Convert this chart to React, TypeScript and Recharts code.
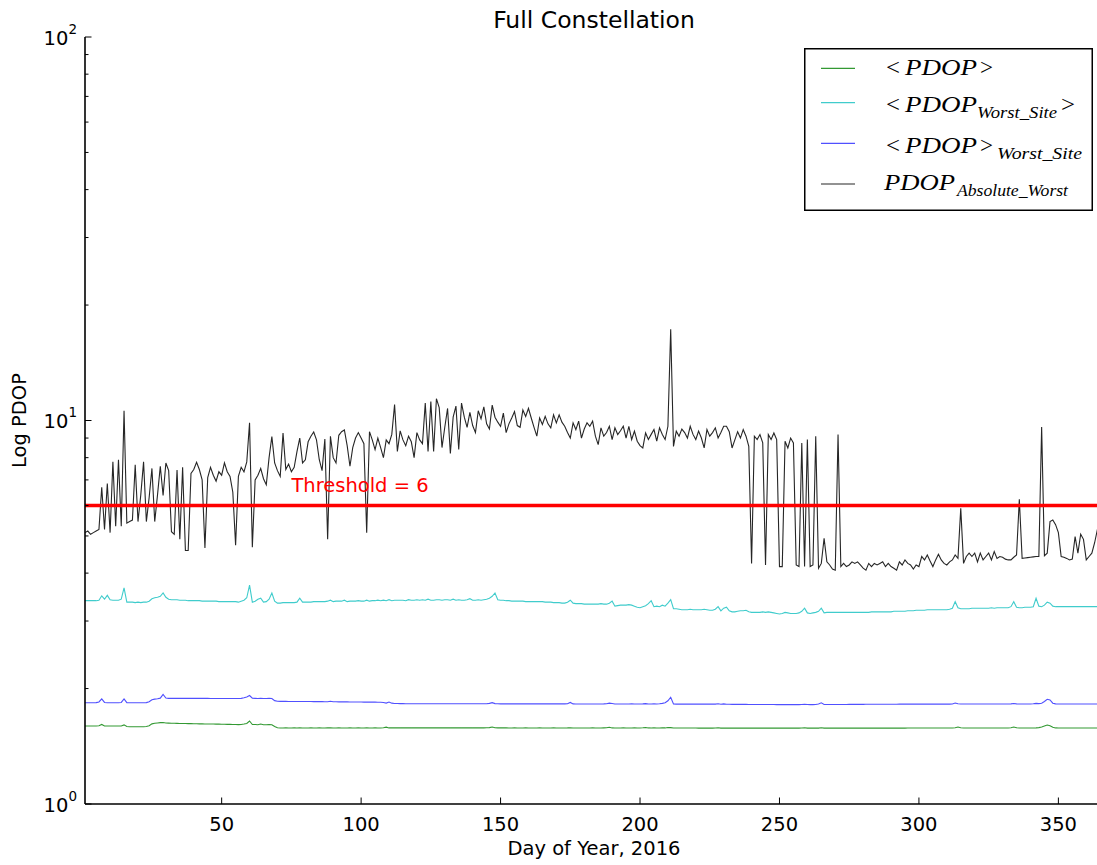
import React from 'react';
import { LineChart, Line, XAxis, YAxis, ReferenceLine, ReferenceDot, Legend } from 'recharts';

// ---------------- data (day 1 .. 366 of 2016) ----------------
// <PDOP>  (green)
const pdopMean = [
  1.597,1.597,1.597,1.597,1.597,1.600,1.612,1.598,1.597,1.597,
  1.597,1.597,1.597,1.598,1.608,1.592,1.590,1.590,1.590,1.590,
  1.590,1.590,1.592,1.600,1.618,1.624,1.627,1.630,1.631,1.626,
  1.625,1.624,1.624,1.623,1.622,1.622,1.621,1.620,1.620,1.619,
  1.619,1.618,1.618,1.617,1.617,1.616,1.616,1.615,1.615,1.614,
  1.614,1.613,1.613,1.612,1.612,1.611,1.612,1.616,1.622,1.646,
  1.612,1.612,1.610,1.616,1.610,1.610,1.612,1.609,1.592,1.580,
  1.578,1.578,1.579,1.578,1.578,1.579,1.578,1.580,1.578,1.578,
  1.578,1.579,1.578,1.578,1.579,1.578,1.578,1.580,1.579,1.578,
  1.578,1.579,1.578,1.578,1.578,1.579,1.578,1.578,1.579,1.578,
  1.578,1.579,1.578,1.578,1.579,1.578,1.578,1.580,1.586,1.579,
  1.579,1.579,1.580,1.579,1.579,1.579,1.580,1.579,1.579,1.579,
  1.579,1.580,1.579,1.579,1.579,1.580,1.579,1.579,1.579,1.579,
  1.580,1.579,1.579,1.579,1.580,1.579,1.579,1.579,1.580,1.579,
  1.579,1.579,1.580,1.579,1.580,1.582,1.588,1.581,1.579,1.579,
  1.579,1.579,1.578,1.578,1.579,1.578,1.578,1.578,1.579,1.578,
  1.578,1.578,1.578,1.579,1.578,1.578,1.578,1.578,1.579,1.578,
  1.578,1.578,1.578,1.579,1.581,1.578,1.578,1.578,1.578,1.578,
  1.578,1.578,1.579,1.578,1.578,1.578,1.579,1.580,1.585,1.579,
  1.578,1.578,1.578,1.579,1.578,1.578,1.578,1.579,1.578,1.578,
  1.580,1.583,1.579,1.578,1.580,1.578,1.578,1.581,1.579,1.583,
  1.582,1.578,1.578,1.578,1.578,1.578,1.578,1.578,1.578,1.578,
  1.577,1.577,1.577,1.578,1.577,1.577,1.578,1.581,1.577,1.578,
  1.577,1.577,1.577,1.577,1.577,1.577,1.577,1.577,1.577,1.577,
  1.577,1.577,1.577,1.577,1.577,1.577,1.577,1.577,1.577,1.577,
  1.577,1.577,1.577,1.577,1.577,1.577,1.577,1.578,1.580,1.577,
  1.577,1.577,1.577,1.577,1.580,1.577,1.577,1.577,1.577,1.577,
  1.577,1.577,1.577,1.577,1.577,1.577,1.577,1.577,1.577,1.577,
  1.577,1.577,1.577,1.577,1.577,1.577,1.577,1.577,1.577,1.577,
  1.577,1.577,1.577,1.577,1.577,1.578,1.578,1.578,1.578,1.578,
  1.578,1.578,1.578,1.578,1.578,1.578,1.578,1.578,1.578,1.578,
  1.578,1.578,1.580,1.587,1.580,1.578,1.578,1.578,1.578,1.578,
  1.578,1.578,1.578,1.578,1.578,1.578,1.578,1.578,1.578,1.578,
  1.578,1.578,1.580,1.587,1.580,1.578,1.578,1.578,1.578,1.578,
  1.578,1.579,1.582,1.588,1.598,1.607,1.600,1.586,1.579,1.578,
  1.578,1.578,1.578,1.578,1.578,1.578,1.578,1.578,1.578,1.578,
  1.578,1.578,1.578,1.578,1.578,1.578,
];

// <PDOP_Worst_Site>  (cyan)
const pdopWorstSiteMean = [
  3.39,3.39,3.39,3.39,3.39,3.40,3.49,3.42,3.50,3.41,
  3.40,3.40,3.40,3.42,3.66,3.36,3.36,3.36,3.35,3.36,
  3.35,3.36,3.36,3.38,3.43,3.45,3.46,3.48,3.55,3.46,
  3.42,3.41,3.41,3.41,3.40,3.40,3.40,3.39,3.39,3.39,
  3.39,3.39,3.38,3.38,3.38,3.38,3.38,3.38,3.37,3.37,
  3.37,3.37,3.37,3.37,3.37,3.36,3.38,3.40,3.45,3.72,
  3.36,3.38,3.42,3.44,3.36,3.37,3.42,3.55,3.38,3.34,
  3.34,3.35,3.35,3.35,3.35,3.35,3.36,3.44,3.36,3.36,
  3.36,3.36,3.37,3.37,3.37,3.37,3.37,3.38,3.40,3.37,
  3.38,3.38,3.38,3.40,3.37,3.38,3.38,3.38,3.39,3.38,
  3.38,3.40,3.38,3.39,3.39,3.40,3.39,3.40,3.39,3.41,
  3.39,3.40,3.40,3.40,3.40,3.39,3.41,3.40,3.40,3.41,
  3.40,3.41,3.40,3.42,3.40,3.40,3.41,3.41,3.40,3.41,
  3.41,3.40,3.42,3.40,3.41,3.40,3.40,3.41,3.43,3.40,
  3.40,3.41,3.40,3.41,3.42,3.44,3.48,3.55,3.41,3.40,
  3.40,3.39,3.39,3.38,3.38,3.38,3.38,3.38,3.37,3.37,
  3.37,3.37,3.37,3.37,3.37,3.36,3.36,3.36,3.35,3.35,
  3.35,3.34,3.34,3.36,3.40,3.34,3.33,3.33,3.33,3.32,
  3.32,3.32,3.32,3.32,3.32,3.33,3.32,3.32,3.34,3.38,
  3.28,3.29,3.30,3.30,3.30,3.31,3.30,3.28,3.26,3.25,
  3.27,3.29,3.33,3.39,3.27,3.28,3.27,3.30,3.28,3.34,
  3.41,3.23,3.23,3.22,3.21,3.21,3.21,3.22,3.21,3.21,
  3.21,3.21,3.22,3.21,3.20,3.20,3.22,3.27,3.19,3.24,
  3.26,3.19,3.17,3.17,3.18,3.19,3.19,3.20,3.17,3.16,
  3.16,3.16,3.16,3.17,3.16,3.17,3.16,3.15,3.14,3.13,
  3.14,3.16,3.15,3.14,3.14,3.14,3.15,3.18,3.24,3.15,
  3.14,3.15,3.16,3.18,3.24,3.15,3.16,3.16,3.16,3.16,
  3.16,3.16,3.16,3.16,3.16,3.16,3.16,3.16,3.16,3.16,
  3.16,3.16,3.17,3.17,3.17,3.17,3.17,3.17,3.17,3.17,
  3.18,3.18,3.18,3.18,3.18,3.19,3.19,3.19,3.20,3.20,
  3.20,3.20,3.21,3.21,3.21,3.21,3.21,3.21,3.21,3.21,
  3.22,3.24,3.37,3.25,3.23,3.23,3.23,3.23,3.24,3.24,
  3.24,3.24,3.24,3.24,3.24,3.25,3.24,3.25,3.25,3.25,
  3.25,3.25,3.27,3.37,3.26,3.25,3.25,3.26,3.26,3.26,
  3.27,3.44,3.28,3.27,3.30,3.36,3.34,3.28,3.27,3.27,
  3.27,3.27,3.27,3.27,3.27,3.27,3.27,3.27,3.27,3.27,
  3.27,3.27,3.27,3.27,3.27,3.27,
];

// <PDOP>_Worst_Site  (blue)
const pdopMeanWorstSite = [
  1.837,1.837,1.837,1.837,1.838,1.845,1.880,1.840,1.837,1.837,
  1.837,1.837,1.837,1.840,1.880,1.838,1.837,1.837,1.837,1.837,
  1.837,1.837,1.838,1.848,1.870,1.877,1.882,1.888,1.930,1.890,
  1.886,1.886,1.886,1.886,1.886,1.886,1.886,1.885,1.885,1.885,
  1.885,1.885,1.885,1.885,1.885,1.884,1.884,1.884,1.884,1.884,
  1.884,1.884,1.884,1.884,1.884,1.884,1.886,1.892,1.900,1.918,
  1.888,1.886,1.884,1.885,1.884,1.884,1.886,1.884,1.860,1.853,
  1.852,1.852,1.852,1.851,1.851,1.851,1.851,1.851,1.850,1.850,
  1.850,1.850,1.849,1.849,1.849,1.849,1.848,1.848,1.853,1.847,
  1.847,1.846,1.846,1.846,1.846,1.845,1.845,1.845,1.845,1.845,
  1.844,1.844,1.844,1.843,1.843,1.842,1.842,1.840,1.833,1.845,
  1.832,1.829,1.828,1.827,1.827,1.826,1.826,1.826,1.825,1.825,
  1.825,1.825,1.825,1.825,1.825,1.825,1.825,1.825,1.825,1.825,
  1.825,1.825,1.825,1.825,1.825,1.825,1.825,1.825,1.825,1.825,
  1.825,1.825,1.825,1.825,1.826,1.830,1.838,1.827,1.825,1.824,
  1.824,1.824,1.824,1.824,1.824,1.824,1.824,1.824,1.824,1.824,
  1.824,1.824,1.824,1.824,1.824,1.824,1.824,1.824,1.824,1.824,
  1.824,1.824,1.824,1.826,1.840,1.824,1.823,1.823,1.823,1.823,
  1.823,1.823,1.823,1.823,1.823,1.823,1.824,1.826,1.832,1.828,
  1.823,1.823,1.823,1.823,1.823,1.823,1.824,1.823,1.823,1.823,
  1.824,1.827,1.823,1.823,1.825,1.823,1.826,1.830,1.836,1.858,
  1.898,1.823,1.822,1.822,1.822,1.822,1.822,1.822,1.821,1.821,
  1.821,1.821,1.821,1.821,1.821,1.821,1.822,1.826,1.820,1.824,
  1.820,1.820,1.819,1.819,1.819,1.819,1.819,1.819,1.818,1.818,
  1.818,1.818,1.818,1.817,1.817,1.817,1.817,1.817,1.816,1.816,
  1.816,1.816,1.816,1.816,1.816,1.816,1.816,1.817,1.820,1.817,
  1.816,1.816,1.817,1.822,1.836,1.818,1.817,1.817,1.818,1.818,
  1.818,1.818,1.818,1.818,1.819,1.819,1.819,1.819,1.819,1.819,
  1.820,1.820,1.820,1.820,1.820,1.820,1.820,1.820,1.820,1.820,
  1.820,1.820,1.821,1.821,1.821,1.821,1.821,1.821,1.822,1.822,
  1.822,1.822,1.822,1.822,1.822,1.822,1.822,1.822,1.822,1.822,
  1.822,1.823,1.834,1.826,1.823,1.823,1.823,1.823,1.823,1.823,
  1.823,1.823,1.823,1.823,1.823,1.823,1.823,1.823,1.823,1.823,
  1.823,1.823,1.824,1.828,1.824,1.823,1.823,1.823,1.823,1.823,
  1.826,1.830,1.827,1.832,1.850,1.875,1.868,1.832,1.824,1.823,
  1.823,1.823,1.823,1.823,1.823,1.823,1.823,1.823,1.823,1.823,
  1.823,1.823,1.823,1.823,1.823,1.823,
];

// PDOP_Absolute_Worst  (black)
const pdopAbsoluteWorst = [
  5.10,5.15,5.05,5.10,5.15,5.20,6.70,5.20,6.85,5.10,
  7.80,5.30,7.90,5.30,10.6,5.40,5.45,5.50,7.66,5.45,
  6.40,7.80,5.45,6.30,7.50,5.45,6.40,7.60,6.38,7.75,
  7.40,5.13,5.05,7.43,4.90,7.55,4.58,4.58,7.28,7.45,
  7.78,7.45,7.00,4.65,7.10,7.55,7.20,6.95,7.35,7.20,
  7.75,7.35,7.15,6.50,4.73,7.15,7.55,7.35,7.80,9.87,
  4.67,7.00,7.20,7.50,7.05,6.80,8.00,9.08,7.75,7.40,
  7.15,9.27,7.45,7.70,7.35,7.55,8.30,9.00,7.75,7.90,
  8.80,9.10,9.33,8.90,7.90,7.40,8.95,4.90,9.10,8.00,
  7.75,9.15,9.35,9.45,8.60,7.60,8.50,9.00,9.30,9.00,
  8.70,5.10,9.35,8.90,8.40,9.00,8.50,8.00,8.90,8.70,
  9.20,11.0,8.30,9.40,8.90,8.60,9.10,8.80,8.00,9.30,
  8.90,8.70,11.1,8.30,11.2,8.30,11.4,10.8,8.50,9.60,
  10.75,8.20,10.2,10.9,8.40,11.1,10.2,9.60,10.5,9.70,
  9.30,10.6,10.1,10.86,9.80,9.50,10.97,10.2,9.90,9.65,
  10.45,9.30,9.80,10.15,10.55,9.70,9.60,10.65,10.25,10.76,
  10.15,9.60,9.10,10.15,9.76,10.25,9.80,9.57,10.35,9.86,
  10.35,9.90,9.66,9.30,9.00,9.86,9.47,9.96,9.00,9.50,
  9.86,9.66,9.96,9.10,8.65,9.57,9.10,9.30,9.66,8.92,
  9.57,9.19,9.40,9.66,9.00,9.66,8.92,9.38,8.83,8.60,
  8.48,9.28,8.92,9.20,9.47,8.83,9.57,9.20,8.92,9.66,
  17.3,8.56,9.38,9.10,9.50,9.30,9.00,9.66,9.20,8.92,
  9.38,9.00,8.48,9.47,9.10,9.30,9.57,9.00,9.30,9.66,
  9.66,9.35,8.48,8.90,9.35,9.00,9.47,9.10,8.56,4.24,
  9.10,8.92,9.19,8.74,4.20,9.19,8.92,9.28,8.92,4.16,
  4.16,8.83,8.48,9.00,8.74,4.20,4.16,8.74,4.16,8.92,
  4.16,4.20,9.10,4.12,4.24,4.93,4.28,4.20,4.10,4.07,
  9.19,4.16,4.24,4.16,4.20,4.28,4.24,4.28,4.20,4.12,
  4.07,4.24,4.16,4.24,4.20,4.24,4.28,4.16,4.24,4.16,
  4.12,4.07,4.28,4.20,4.33,4.24,4.20,4.10,4.20,4.16,
  4.42,4.33,4.46,4.30,4.16,4.33,4.48,4.33,4.24,4.20,
  4.28,4.33,4.46,4.37,5.90,4.24,4.42,4.51,4.42,4.51,
  4.28,4.51,4.33,4.42,4.51,4.33,4.55,4.37,4.42,4.40,
  4.35,4.33,4.33,4.40,4.46,6.23,4.37,4.38,4.39,4.40,
  4.41,4.42,4.42,9.62,4.44,4.51,5.45,5.50,5.35,5.10,
  4.42,4.40,4.37,4.33,4.35,4.98,4.51,5.05,4.90,4.33,
  4.42,4.51,4.80,5.20,5.00,5.00,
];

const xTicks = [50, 100, 150, 200, 250, 300, 350];
const yMajorTicks = [1, 10, 100];
const yMajorExponents = ['0', '1', '2'];
const yMinorTicks = [2, 3, 4, 5, 6, 7, 8, 9, 20, 30, 40, 50, 60, 70, 80, 90];
const yAllTicks = [...yMajorTicks, ...yMinorTicks].sort((a, b) => a - b);

const thresholdValue = 6;
const thresholdText = 'Threshold = 6';
const thresholdTextDay = 75;
const thresholdTextValue = 6.5;

const seriesKeys = ['mean', 'worstSiteMean', 'meanWorstSite', 'absoluteWorst'];
const seriesColors = ['#339933', '#40cccc', '#5050ff', '#262626'];

const titleText = 'Full Constellation';
const xLabelText = 'Day of Year, 2016';
const yLabelText = 'Log PDOP';

const data = pdopAbsoluteWorst.map((v, i) => ({
  day: i + 1,
  mean: pdopMean[i],
  worstSiteMean: pdopWorstSiteMean[i],
  meanWorstSite: pdopMeanWorstSite[i],
  absoluteWorst: v,
}));

// ---------------- styling ----------------
const SANS = '"DejaVu Sans", "Bitstream Vera Sans", Verdana, sans-serif';
const SERIF = '"Liberation Serif", "Times New Roman", serif';
const FS = 19.5;
const CHART_W = 1103;
const CHART_H = 865;
const MARGIN_TOP = 37;
const X_AXIS_H = 61;
const PLOT_H = CHART_H - MARGIN_TOP - X_AXIS_H;

const YTick = (props: any) => {
  const { x, y, payload, side } = props;
  const v = payload.value;
  const mi = yMajorTicks.indexOf(v);
  const major = mi >= 0;
  const len = major ? 6.5 : 3.5;
  const dir = side === 'left' ? 1 : -1;
  return (
    <g>
      <line x1={x} y1={y} x2={x + dir * len} y2={y} stroke="#000" strokeWidth={1} />
      {major && side === 'left' && (
        <text x={x - 8} y={y + 7.5} textAnchor="end" fontFamily={SANS} fontSize={FS} fill="#000">
          10
          <tspan dy={-11} fontSize={13.5}>{yMajorExponents[mi]}</tspan>
        </text>
      )}
    </g>
  );
};

const XTick = (props: any) => {
  const { x, y, payload, side } = props;
  const dir = side === 'bottom' ? -1 : 1;
  return (
    <g>
      <line x1={x} y1={y} x2={x} y2={y + dir * 6.5} stroke="#000" strokeWidth={1} />
      {side === 'bottom' && (
        <text x={x} y={y + 27} textAnchor="middle" fontFamily={SANS} fontSize={FS} fill="#000">
          {payload.value}
        </text>
      )}
    </g>
  );
};

const ThresholdLabel = (props: any) => (
  <text x={props.cx} y={props.cy} fontFamily={SANS} fontSize={FS} fill="#ff0000">
    {thresholdText}
  </text>
);

const legendLines = [20.3, 54.7, 95.3, 136];
const legendRows = [
  {
    base: 27,
    parts: [
      { t: '<', x: 82, w: 14, op: true },
      { t: 'PDOP', x: 101, w: 72 },
      { t: '>', x: 176, w: 13, op: true },
    ],
  },
  {
    base: 63.7,
    parts: [
      { t: '<', x: 82, w: 14, op: true },
      { t: 'PDOP', x: 101, w: 72 },
      { t: 'Worst_Site', x: 173, w: 80, sub: true },
      { t: '>', x: 257, w: 14, op: true },
    ],
  },
  {
    base: 105.3,
    parts: [
      { t: '<', x: 82, w: 14, op: true },
      { t: 'PDOP', x: 101, w: 72 },
      { t: '>', x: 176, w: 13, op: true },
      { t: 'Worst_Site', x: 193, w: 85, sub: true },
    ],
  },
  {
    base: 142,
    parts: [
      { t: 'PDOP', x: 80, w: 71 },
      { t: 'Absolute_Worst', x: 153, w: 111, sub: true },
    ],
  },
];

const LegendBox = () => (
  <svg width={289} height={163} style={{ display: 'block' }}>
    <rect x={0.75} y={0.75} width={287.5} height={161.5} fill="#fff" stroke="#000" strokeWidth={1.5} />
    {legendRows.map((row, i) => (
      <g key={i}>
        <line x1={17} x2={51} y1={legendLines[i]} y2={legendLines[i]} stroke={seriesColors[i]} strokeWidth={1.2} />
        {row.parts.map((p: any, j: number) => (
          <text
            key={j}
            x={p.x}
            y={p.sub ? row.base + 6 : row.base}
            fontFamily={SERIF}
            fontSize={p.sub ? 16 : 23}
            fontStyle={p.op ? 'normal' : 'italic'}
            textLength={p.w}
            lengthAdjust="spacingAndGlyphs"
            fill="#000"
          >
            {p.t}
          </text>
        ))}
      </g>
    ))}
  </svg>
);

export default function App() {
  return (
    <div
      style={{
        position: 'absolute',
        left: 0,
        top: 0,
        width: 1097,
        height: 865,
        overflow: 'hidden',
        background: '#fff',
      }}
    >
      <LineChart
        width={CHART_W}
        height={CHART_H}
        data={data}
        margin={{ top: MARGIN_TOP, right: 0, bottom: 0, left: 0 }}
      >
        <XAxis
          dataKey="day"
          type="number"
          domain={[1, 366]}
          ticks={xTicks}
          interval={0}
          height={X_AXIS_H}
          tickSize={0}
          tickMargin={0}
          tickLine={false}
          axisLine={{ stroke: '#000', strokeWidth: 1.6 }}
          tick={(p: any) => <XTick {...p} side="bottom" />}
          label={{
            content: (lp: any) => {
              const vb = lp.viewBox || {};
              const cx = vb.x + vb.width / 2;
              return (
                <g>
                  <text x={cx} y={vb.y + 51} textAnchor="middle" fontFamily={SANS} fontSize={FS} fill="#000">
                    {xLabelText}
                  </text>
                  <text x={cx} y={vb.y - PLOT_H - 9} textAnchor="middle" fontFamily={SANS} fontSize={23.5} fill="#000">
                    {titleText}
                  </text>
                </g>
              );
            },
          }}
        />
        <XAxis
          xAxisId="top"
          orientation="top"
          dataKey="day"
          type="number"
          domain={[1, 366]}
          ticks={xTicks}
          interval={0}
          height={0}
          tickSize={0}
          tickMargin={0}
          tickLine={false}
          axisLine={{ stroke: '#000', strokeWidth: 1.6 }}
          tick={(p: any) => <XTick {...p} side="top" />}
        />
        <YAxis
          type="number"
          scale="log"
          domain={[1, 100]}
          allowDataOverflow
          ticks={yAllTicks}
          interval={0}
          width={85}
          tickSize={0}
          tickMargin={0}
          tickLine={false}
          axisLine={{ stroke: '#000', strokeWidth: 1.6 }}
          tick={(p: any) => <YTick {...p} side="left" />}
          label={{
            content: (lp: any) => {
              const vb = lp.viewBox || {};
              const cx = vb.x + 26;
              const cy = vb.y + vb.height / 2;
              return (
                <text x={cx} y={cy} transform={`rotate(-90, ${cx}, ${cy})`} textAnchor="middle" fontFamily={SANS} fontSize={FS} fill="#000">
                  {yLabelText}
                </text>
              );
            },
          }}
        />
        <YAxis
          yAxisId="right"
          orientation="right"
          type="number"
          scale="log"
          domain={[1, 100]}
          allowDataOverflow
          ticks={yAllTicks}
          interval={0}
          width={0}
          tickSize={0}
          tickMargin={0}
          tickLine={false}
          axisLine={{ stroke: '#000', strokeWidth: 1.6 }}
          tick={(p: any) => <YTick {...p} side="right" />}
        />
        <Legend
          layout="vertical"
          align="center"
          verticalAlign="middle"
          content={() => <LegendBox />}
          wrapperStyle={{ position: 'absolute', left: 804, top: 48, width: 289, height: 163 }}
        />
        {seriesKeys.map((k, i) => (
          <Line
            key={k}
            type="linear"
            dataKey={k}
            stroke={seriesColors[i]}
            strokeWidth={1.1}
            dot={false}
            activeDot={false}
            isAnimationActive={false}
          />
        ))}
        <ReferenceLine y={thresholdValue} stroke="#ff0000" strokeWidth={3.5} />
        <ReferenceDot
          x={thresholdTextDay}
          y={thresholdTextValue}
          r={1}
          shape={(p: any) => <ThresholdLabel {...p} />}
        />
      </LineChart>
    </div>
  );
}
